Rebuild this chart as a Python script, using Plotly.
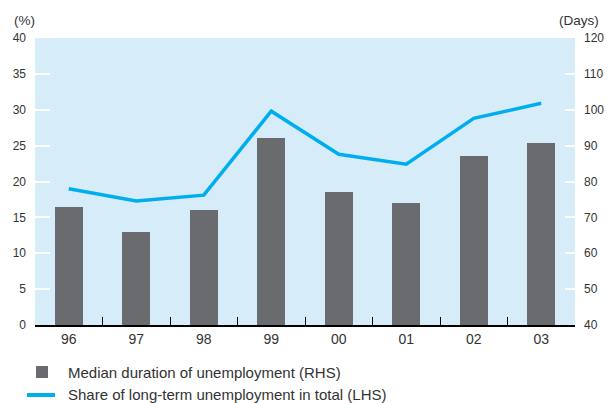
import plotly.graph_objects as go

years = ["96", "97", "98", "99", "00", "01", "02", "03"]
median_days = [72.9, 65.9, 72.1, 92.1, 77.1, 74.0, 87.1, 90.7]
long_term_share = [19.0, 17.3, 18.1, 29.8, 23.8, 22.4, 28.8, 30.9]
bar_name = "Median duration of unemployment (RHS)"
line_name = "Share of long-term unemployment in total (LHS)"

FONT = "Liberation Sans, Arial, sans-serif"
TXT = "#333333"
BAR_C = "#6a6b6f"
LINE_C = "#00aeef"

fig = go.Figure()
fig.add_trace(go.Bar(
    x=years, y=median_days, name=bar_name,
    marker=dict(color=BAR_C, line=dict(width=0)), width=0.41, yaxis="y",
))
fig.add_trace(go.Scatter(
    x=years, y=long_term_share, name=line_name,
    mode="lines", line=dict(color=LINE_C, width=3.5), yaxis="y2",
))

fig.update_layout(
    width=609, height=403,
    margin=dict(l=35, r=34, t=38, b=78, autoexpand=False),
    paper_bgcolor="white", plot_bgcolor="#d6edf9",
    font=dict(family=FONT, size=12, color=TXT),
    showlegend=False,
    bargap=0,
    xaxis=dict(type="category", range=[-0.5, 7.5], showgrid=False, automargin=False,
               showline=True, linecolor="black", linewidth=1.5,
               ticks="inside", tickson="boundaries", ticklen=8, tickcolor="black",
               tickwidth=1, tickfont=dict(size=14, color=TXT), zeroline=False),
    yaxis=dict(side="right", range=[40, 120], dtick=10, showgrid=False, automargin=False,
               ticks="inside", tickcolor="white", ticklen=10, tickwidth=2,
               ticklabelstandoff=8,
               zeroline=False, tickfont=dict(size=12, color=TXT)),
    yaxis2=dict(side="left", overlaying="y", range=[0, 40], dtick=5, showgrid=False,
                automargin=False,
                ticks="inside", tickcolor="white", ticklen=15, tickwidth=2,
                ticklabelstandoff=8,
                zeroline=False, tickfont=dict(size=12, color=TXT)),
    shapes=[
        # custom legend swatches
        dict(type="rect", xref="paper", yref="paper", x0=0.0019, x1=0.0241,
             y0=-0.1847, y1=-0.1429, fillcolor=BAR_C, line=dict(width=0)),
        dict(type="line", xref="paper", yref="paper", x0=-0.0148, x1=0.037,
             y0=-0.2439, y1=-0.2439, line=dict(color=LINE_C, width=4)),
    ],
    annotations=[
        dict(text="(%)", xref="paper", yref="paper", x=-0.0426, y=1.06,
             xanchor="left", yanchor="middle", showarrow=False,
             font=dict(size=13.5, color=TXT)),
        dict(text="(Days)", xref="paper", yref="paper", x=1.0481, y=1.06,
             xanchor="right", yanchor="middle", showarrow=False,
             font=dict(size=13.5, color=TXT)),
        dict(text=bar_name, xref="paper", yref="paper", x=0.0574, y=-0.1638,
             xanchor="left", yanchor="middle", showarrow=False,
             font=dict(size=15, color=TXT)),
        dict(text=line_name, xref="paper", yref="paper", x=0.0574, y=-0.2439,
             xanchor="left", yanchor="middle", showarrow=False,
             font=dict(size=15, color=TXT)),
    ],
)

fig.write_html("out.html", config={"displayModeBar": False},
               post_script="document.body.style.margin='0px';document.body.style.padding='0px';")
